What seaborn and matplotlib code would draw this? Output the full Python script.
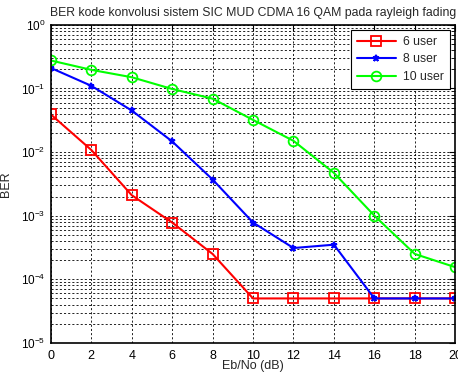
import matplotlib
matplotlib.use("Agg")
import matplotlib.pyplot as plt
import seaborn as sns
import numpy as np
import pandas as pd
from matplotlib.ticker import LogLocator

sns.set_style("white")
plt.rcParams['font.family'] = ['Liberation Sans', 'DejaVu Sans']
plt.rcParams['mathtext.fontset'] = 'custom'
plt.rcParams['mathtext.rm'] = 'Liberation Sans'
plt.rcParams['mathtext.it'] = 'Liberation Sans'

ebno = [0, 2, 4, 6, 8, 10, 12, 14, 16, 18, 20]
ber_6 = [0.039, 0.0108, 0.0021, 0.00078, 0.00025, 5e-5, 5e-5, 5e-5, 5e-5, 5e-5, 5e-5]
ber_8 = [0.21, 0.11, 0.045, 0.0147, 0.0037, 0.00078, 0.00031, 0.00035, 5e-5, 5e-5, 5e-5]
ber_10 = [0.275, 0.196, 0.15, 0.098, 0.069, 0.032, 0.015, 0.0047, 0.001, 0.00025, 0.000155]
labels = ["6 user", "8 user", "10 user"]
colors = ["#ff0000", "#0000ff", "#00ff00"]
markers = ["s", "*", "o"]

df = pd.DataFrame({"x": ebno * 3,
                   "y": ber_6 + ber_8 + ber_10,
                   "s": [labels[0]] * 11 + [labels[1]] * 11 + [labels[2]] * 11})

fig = plt.figure(figsize=(4.58, 3.76), dpi=100)
ax = fig.add_axes([0.111, 0.088, 0.883, 0.846])

for lab, col, mk in zip(labels, colors, markers):
    sub = df[df.s == lab]
    ms = 5 if mk == "*" else 7
    sns.lineplot(data=sub, x="x", y="y", ax=ax, color=col, marker=mk,
                 markersize=ms, markerfacecolor='none', markeredgecolor=col,
                 markeredgewidth=1.3, linewidth=1.5, label=lab)

ax.set_yscale('log')
ax.set_ylim(1e-5, 1)
ax.set_xlim(0, 20)
ax.set_xticks(ebno)
ax.yaxis.set_major_locator(LogLocator(base=10, numticks=10))
ax.yaxis.set_minor_locator(LogLocator(base=10, subs=np.arange(2, 10), numticks=20))

ax.grid(True, which='major', axis='both', color='black', linestyle=(0, (2.5, 2.5)), linewidth=0.6)
ax.grid(True, which='minor', axis='y', color='black', linestyle=(0, (2.5, 2.5)), linewidth=0.6)

ax.tick_params(axis='both', which='both', direction='in', top=True, right=True,
               colors='black', length=4, pad=4)
ax.tick_params(axis='x', labelsize=9, pad=5)
ax.tick_params(axis='y', labelsize=8.5)
ax.tick_params(axis='both', which='minor', length=2)
for s in ax.spines.values():
    s.set_color('black')
    s.set_linewidth(1.2)

ax.set_xlabel("Eb/No (dB)", fontsize=9)
ax.xaxis.set_label_coords(0.5, -0.055)
ax.set_ylabel("BER", fontsize=9)
ax.yaxis.set_label_coords(-0.097, 0.5)
ax.set_title("BER kode konvolusi sistem SIC MUD CDMA 16 QAM pada rayleigh fading", fontsize=8.8, pad=6)

leg = ax.legend(loc='upper right', fontsize=8.8, fancybox=False, framealpha=1,
                edgecolor='black', borderaxespad=0.4, handlelength=3.2,
                borderpad=0.5, labelspacing=0.45, handletextpad=0.6)
leg.get_frame().set_linewidth(0.8)

fig.savefig("out.png", dpi=100)
